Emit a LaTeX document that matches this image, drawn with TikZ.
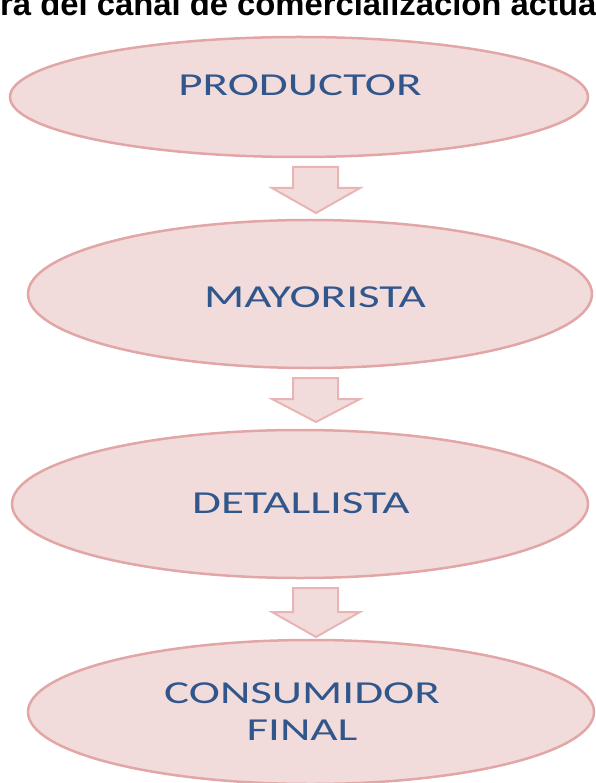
\documentclass[tikz,border=0pt]{standalone}
\usepackage{fontspec}
\usetikzlibrary{shapes.geometric}
\newfontfamily\carlito{Carlito}
\newfontfamily\arialb{Liberation Sans}
\definecolor{rosa}{RGB}{242,220,219}
\definecolor{borde}{RGB}{226,166,166}
\definecolor{bordeflecha}{RGB}{232,180,180}
\definecolor{azul}{RGB}{48,86,140}
\newcommand\ancho[1]{\scalebox{1.47}[1]{#1}}

\begin{document}
\begin{tikzpicture}
  [x=1pt,y=-1pt,
   elipse/.style={ellipse,draw=borde,fill=rosa,line width=2.5pt,inner sep=0pt},
   texto/.style={text=azul,align=center,font=\carlito\fontsize{32}{37}\selectfont},
   flecha/.style={draw=bordeflecha,fill=rosa,line width=2pt,line join=miter}]
  \useasboundingbox (0,0) rectangle (595,783);
  \node (titulo) [anchor=base west,inner sep=0pt,font=\arialb\bfseries\fontsize{32.8}{36}\selectfont]
    at (0,16) {ra del canal de comercialización actual};
  \node (ne1) [elipse,minimum width=578,minimum height=120] at (299,97) {};
  \node (ne2) [elipse,minimum width=564,minimum height=148] at (310,294) {};
  \node (ne3) [elipse,minimum width=576,minimum height=148] at (300,504) {};
  \node (ne4) [elipse,minimum width=566,minimum height=144] at (311,712) {};
  \node (nt1) [texto] at (300,85) {\ancho{PRODUCTOR}};
  \node (nt2) [texto] at (315,297) {\ancho{MAYORISTA}};
  \node (nt3) [texto] at (301,503) {\ancho{DETALLISTA}};
  \node (nt4) [texto] at (302,712) {\ancho{CONSUMIDOR}\\\ancho{FINAL}};
  \foreach \ya/\yb/\yc in {167/188/213,378/399/422,588/612/637}
    \draw[flecha] (293,\ya) -- (338,\ya) -- (338,\yb) -- (360,\yb)
      -- (316,\yc) -- (272,\yb) -- (293,\yb) -- cycle;
\end{tikzpicture}
\end{document}
